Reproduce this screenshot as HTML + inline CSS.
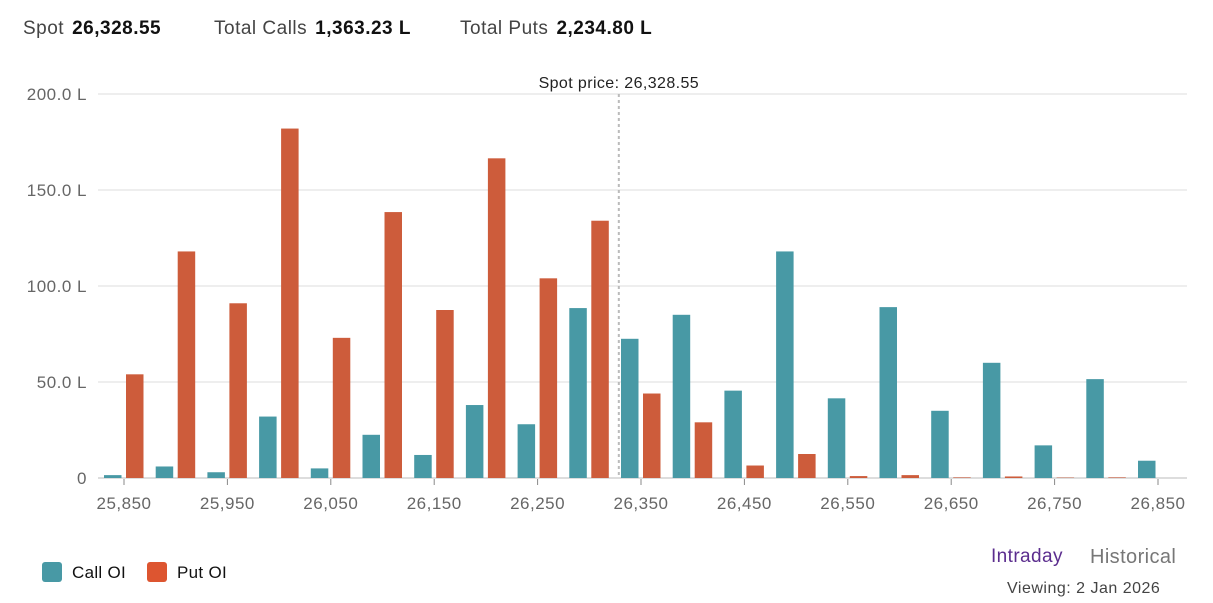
<!DOCTYPE html>
<html><head><meta charset="utf-8"><style>
body{margin:0;background:#fff;font-family:"Liberation Sans",sans-serif;}
#wrap{position:relative;width:1213px;height:603px;overflow:hidden;}
.hdr{position:absolute;top:18px;font-size:19px;color:#444;letter-spacing:0.5px;}
.hdr b{color:#111;font-weight:bold;margin-left:8px;}
</style></head><body>
<div id="wrap">
<div class="hdr" style="left:23px">Spot<b>26,328.55</b></div>
<div class="hdr" style="left:214px">Total Calls<b>1,363.23 L</b></div>
<div class="hdr" style="left:460px">Total Puts<b>2,234.80 L</b></div>
<svg id="chart" width="1213" height="603" style="position:absolute;left:0;top:0"></svg>
</div>
<script>
const strikes=[25850,25900,25950,26000,26050,26100,26150,26200,26250,26300,26350,26400,26450,26500,26550,26600,26650,26700,26750,26800,26850];
const callOI=[1.5,6,3,32,5,22.5,12,38,28,88.5,72.5,85,45.5,118,41.5,89,35,60,17,51.5,9];
const putOI=[54,118,91,182,73,138.5,87.5,166.5,104,134,44,29,6.5,12.5,1,1.5,0.3,0.8,0.2,0.3,0];
const yTicks=[0,50,100,150,200];
const yTickLabels=["0","50.0 L","100.0 L","150.0 L","200.0 L"];
const xTickLabels=[25850,25950,26050,26150,26250,26350,26450,26550,26650,26750,26850];
const spot=26328.55;
const NS="http://www.w3.org/2000/svg";
const svg=document.getElementById('chart');
const x=v=>124+(v-25850)/50*51.7;
const y=v=>478-v*1.92;
function mk(t,a){const e=document.createElementNS(NS,t);for(const k in a)e.setAttribute(k,a[k]);svg.appendChild(e);return e;}
yTicks.forEach((t,i)=>{
 const g=mk('line',{x1:98,x2:1187,y1:y(t),y2:y(t),stroke:t===0?'#ddd':'#dcdcdc','stroke-width':t===0?2:1});
 
 
 const l=mk('text',{x:87,y:y(t)+6,'text-anchor':'end','font-size':17,'letter-spacing':0.5,fill:'#666','font-family':'Liberation Sans, sans-serif'});
 l.textContent=yTickLabels[i];
 
 
});
strikes.forEach((s,i)=>{
 const c=mk('rect',{x:x(s)-20,y:y(callOI[i]),width:17.5,height:callOI[i]*1.92,fill:'#4899a5'});
 
 
 const p=mk('rect',{x:x(s)+2,y:y(putOI[i]),width:17.5,height:putOI[i]*1.92,fill:'#cd5c3b'});
 
 
});
xTickLabels.forEach(s=>{
 const tk=mk('line',{x1:x(s),x2:x(s),y1:479,y2:485,stroke:'#888','stroke-width':1});
 
 
 const l=mk('text',{x:x(s),y:509,'text-anchor':'middle','font-size':17,'letter-spacing':0.5,fill:'#666','font-family':'Liberation Sans, sans-serif'});
 l.textContent=s.toLocaleString('en-US');
 
 
});
const sl=mk('line',{x1:x(spot),x2:x(spot),y1:94,y2:478,stroke:'#bbb','stroke-width':2,'stroke-dasharray':'3,3'});


const st=mk('text',{x:x(spot),y:88,'text-anchor':'middle','font-size':16,'letter-spacing':0.4,fill:'#222','font-family':'Liberation Sans, sans-serif'});
st.textContent='Spot price: 26,328.55';


</script>
<div style="position:absolute;left:42px;top:562px;width:20px;height:20px;background:#4899a5;border-radius:3px"></div>
<div style="position:absolute;left:72px;top:563px;font-size:17px;letter-spacing:0.3px;color:#111">Call OI</div>
<div style="position:absolute;left:147px;top:562px;width:20px;height:20px;background:#dd5530;border-radius:3px"></div>
<div style="position:absolute;left:177px;top:563px;font-size:17px;letter-spacing:0.3px;color:#111">Put OI</div>
<div style="position:absolute;left:991px;top:546px;font-size:19px;letter-spacing:0.4px;color:#5b2d8e">Intraday</div>
<div style="position:absolute;left:1090px;top:546px;font-size:20px;letter-spacing:0.4px;color:#777">Historical</div>
<div style="position:absolute;left:1007px;top:580px;font-size:16px;letter-spacing:0.5px;color:#444">Viewing: 2 Jan 2026</div>
</body></html>
